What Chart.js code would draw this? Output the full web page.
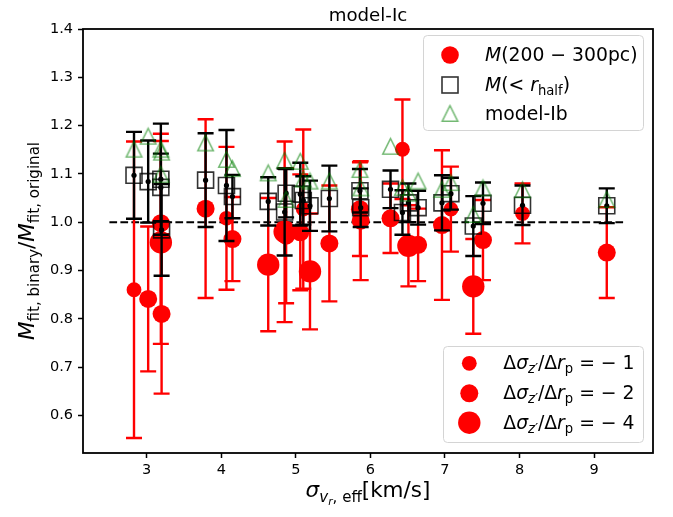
<!DOCTYPE html>
<html>
<head>
<meta charset="utf-8">
<script src="https://cdn.jsdelivr.net/npm/chart.js@4.4.0/dist/chart.umd.min.js"></script>
<style>
  html, body { margin: 0; padding: 0; background: #fff; }
  #wrap { width: 673px; height: 517px; }
</style>
</head>
<body>
<div id="wrap"><canvas id="chart" width="673" height="517"></canvas></div>
<script>
// effective l.o.s. velocity dispersion of each galaxy [km/s]
const sigmaEff = [2.83, 3.02, 3.19, 3.19, 3.20, 3.79, 4.07, 4.15, 4.63, 4.85, 4.87, 5.06, 5.10, 5.19,
                  5.45, 5.86, 5.87, 6.27, 6.43, 6.51, 6.64, 6.96, 7.08, 7.38, 7.51, 8.04, 9.17];
// M(200-300pc) ratio, binary / original
const massShell = [0.860, 0.841, 0.998, 0.958, 0.810, 1.028, 1.008, 0.965, 0.912, 0.980, 0.972, 0.979, 1.027, 0.898,
                   0.956, 1.027, 1.003, 1.008, 1.151, 0.951, 0.953, 0.994, 1.027, 0.867, 0.963, 1.018, 0.937];
const massShellErr = [0.307, 0.150, 0.185, 0.210, 0.165, 0.185, 0.148, 0.087, 0.138, 0.187, 0.140, 0.120, 0.165, 0.120,
                      0.120, 0.097, 0.123, 0.072, 0.103, 0.084, 0.075, 0.155, 0.088, 0.098, 0.083, 0.062, 0.094];
// dispersion gradient used for each galaxy (sets the dot size)
const gradient = [-1, -2, -2, -4, -2, -2, -1, -2, -4, -4, -2, -2, -1, -4,
                  -2, -2, -2, -2, -1, -4, -2, -2, -1, -4, -2, -1, -2];
// M(<r_half) ratio
const massHalf = [1.097, 1.084, 1.072, 1.089, 0.984, 1.087, 1.076, 1.053, 1.043, 1.021, 1.060, 1.058, 1.045, 1.034,
                  1.049, 1.065, 1.030, 1.068, 1.020, 1.040, 1.030, 1.040, 1.059, 0.992, 1.039, 1.035, 1.034];
const massHalfErr = [0.090, 0.085, 0.070, 0.115, 0.095, 0.097, 0.115, 0.045, 0.050, 0.090, 0.050, 0.065, 0.050, 0.052,
                     0.068, 0.045, 0.040, 0.039, 0.046, 0.040, 0.035, 0.057, 0.033, 0.062, 0.043, 0.041, 0.036];
// model-Ib M(<r_half) ratio
const modelIb = [1.151, 1.178, 1.151, 1.099, 1.145, 1.164, 1.130, 1.111, 1.102, 1.128, 1.047, 1.126, 1.089, 1.085,
                 1.085, 1.109, 1.071, 1.157, 1.072, 1.060, 1.085, 1.068, 1.082, 1.016, 1.071, 1.067, 1.047];

const refLineX = [2.5, 9.4];
const refLineY = [1.0, 1.0];
const legendGradients = [-1, -2, -4];

const xTicks = [3, 4, 5, 6, 7, 8, 9];
const yTicks = [0.6, 0.7, 0.8, 0.9, 1.0, 1.1, 1.2, 1.3, 1.4];
const xRange = [2.146, 9.79];
const yRange = [0.522, 1.4];

const FONT = '"DejaVu Sans", sans-serif';
const dotRadius = { '-1': 7.4, '-2': 9.0, '-4': 11.2 };
const GREEN = 'rgba(0,128,0,0.55)';

function triangleMarker(half, color, lw) {
  const c = document.createElement('canvas');
  c.width = c.height = Math.ceil(half * 2 + lw * 2 + 2);
  const g = c.getContext('2d');
  const m = c.width / 2;
  g.strokeStyle = color;
  g.lineWidth = lw;
  g.beginPath();
  g.moveTo(m, m - half);
  g.lineTo(m - half, m + half);
  g.lineTo(m + half, m + half);
  g.closePath();
  g.stroke();
  return c;
}
const triMark = triangleMarker(7.8, GREEN, 1.5);

// draws a list of [text, style, level] runs; level 1 = subscript, 2 = sub-subscript
function drawRich(ctx, runs, x, y, size, align) {
  const parts = runs.map(([t, st, lv]) => {
    const fs = size * [1, 0.7, 0.5][lv];
    const font = (st === 'i' ? 'italic ' : '') + fs.toFixed(2) + 'px ' + FONT;
    ctx.font = font;
    return { t, font, w: ctx.measureText(t).width, dy: [0, 0.22, 0.36][lv] * size };
  });
  const total = parts.reduce((s, p) => s + p.w, 0);
  let cx = align === 'center' ? x - total / 2 : align === 'right' ? x - total : x;
  ctx.textAlign = 'left';
  ctx.textBaseline = 'alphabetic';
  parts.forEach(p => {
    ctx.font = p.font;
    ctx.fillText(p.t, cx, y + p.dy);
    cx += p.w;
  });
}

function roundBox(ctx, x, y, w, h, r) {
  ctx.beginPath();
  ctx.moveTo(x + r, y);
  ctx.arcTo(x + w, y, x + w, y + h, r);
  ctx.arcTo(x + w, y + h, x, y + h, r);
  ctx.arcTo(x, y + h, x, y, r);
  ctx.arcTo(x, y, x + w, y, r);
  ctx.closePath();
  ctx.fillStyle = 'rgba(255,255,255,0.8)';
  ctx.fill();
  ctx.strokeStyle = '#d4d4d4';
  ctx.lineWidth = 1;
  ctx.stroke();
}

const errorBars = {
  id: 'errorBars',
  beforeDatasetDraw(chart, args) {
    const ds = chart.data.datasets[args.index];
    if (!ds.errors) return;
    const { ctx } = chart;
    const xs = chart.scales.x, ys = chart.scales.y;
    ctx.save();
    ctx.strokeStyle = ds.errColor;
    ctx.lineWidth = 2.4;
    ds.data.forEach((p, i) => {
      const px = xs.getPixelForValue(p.x);
      const lo = ys.getPixelForValue(p.y - ds.errors[i]);
      const hi = ys.getPixelForValue(p.y + ds.errors[i]);
      ctx.beginPath();
      ctx.moveTo(px, lo); ctx.lineTo(px, hi);
      ctx.moveTo(px - 8, lo); ctx.lineTo(px + 8, lo);
      ctx.moveTo(px - 8, hi); ctx.lineTo(px + 8, hi);
      ctx.stroke();
    });
    ctx.restore();
  }
};

const decorations = {
  id: 'decorations',
  afterDraw(chart) {
    const { ctx, chartArea: a } = chart;
    ctx.save();
    // frame
    ctx.strokeStyle = '#000';
    ctx.lineWidth = 1.8;
    ctx.strokeRect(a.left, a.top, a.right - a.left, a.bottom - a.top);

    ctx.fillStyle = '#000';
    // title
    ctx.font = '18.2px ' + FONT;
    ctx.textAlign = 'center';
    ctx.textBaseline = 'alphabetic';
    ctx.fillText('model-Ic', (a.left + a.right) / 2, 21);

    // x label
    drawRich(ctx, [['σ', 'i', 0], ['v', 'i', 1], ['r', 'i', 2], [', eff', 'n', 1], ['[km/s]', 'n', 0]],
      (a.left + a.right) / 2, 497, 21.5, 'center');

    // y label
    ctx.save();
    ctx.translate(34, (a.top + a.bottom) / 2);
    ctx.rotate(-Math.PI / 2);
    drawRich(ctx, [['M', 'i', 0], ['fit, binary', 'n', 1], ['/', 'n', 0], ['M', 'i', 0], ['fit, original', 'n', 1]],
      0, 0, 21.5, 'center');
    ctx.restore();

    // upper legend
    roundBox(ctx, 423.5, 35.5, 220, 95, 4);
    const lx = 450, tx = 485, fs = 18.8;
    ctx.fillStyle = '#ff0000';
    ctx.beginPath(); ctx.arc(lx, 55, 8.8, 0, Math.PI * 2); ctx.fill();
    ctx.strokeStyle = 'rgba(0,0,0,0.8)';
    ctx.lineWidth = 1.6;
    ctx.strokeRect(lx - 8, 85 - 8, 16, 16);
    ctx.drawImage(triMark, lx - triMark.width / 2, 113.5 - triMark.height / 2);
    ctx.fillStyle = '#000';
    drawRich(ctx, [['M', 'i', 0], ['(200 − 300pc)', 'n', 0]], tx, 61.3, fs, 'left');
    drawRich(ctx, [['M', 'i', 0], ['(< ', 'n', 0], ['r', 'i', 0], ['half', 'n', 1], [')', 'n', 0]], tx, 91.3, fs, 'left');
    drawRich(ctx, [['model-Ib', 'n', 0]], tx, 120, fs, 'left');

    // lower legend
    roundBox(ctx, 443.5, 346.5, 200, 96, 4);
    const rows = [363.3, 393.3, 422.7];
    legendGradients.forEach((gv, i) => {
      ctx.fillStyle = '#ff0000';
      ctx.beginPath(); ctx.arc(469.3, rows[i], dotRadius[gv], 0, Math.PI * 2); ctx.fill();
      ctx.fillStyle = '#000';
      drawRich(ctx, [['Δ', 'n', 0], ['σ', 'i', 0], ['z′', 'i', 1], ['/Δ', 'n', 0], ['r', 'i', 0], ['p', 'n', 1],
        [' = − ' + Math.abs(gv), 'n', 0]], 503.3, rows[i] + 6, fs, 'left');
    });
    ctx.restore();
  }
};

const pts = ys => sigmaEff.map((x, i) => ({ x, y: ys[i] }));
const tickFont = { family: FONT, size: 14.5 };

new Chart(document.getElementById('chart'), {
  type: 'scatter',
  data: {
    datasets: [
      {
        data: refLineX.map((x, i) => ({ x, y: refLineY[i] })),
        showLine: true, borderColor: '#000', borderWidth: 2, borderDash: [7.7, 3.3],
        pointRadius: 0, order: 5
      },
      {
        data: pts(massShell), errors: massShellErr, errColor: '#ff0000',
        pointRadius: gradient.map(g => dotRadius[g]), backgroundColor: '#ff0000', borderWidth: 0, order: 4
      },
      {
        data: pts(massHalf), errors: massHalfErr, errColor: '#000',
        pointStyle: 'rect', pointRadius: 11.3, backgroundColor: 'rgba(0,0,0,0)',
        borderColor: 'rgba(0,0,0,0.8)', borderWidth: 1.6, order: 3
      },
      {
        data: pts(massHalf), pointRadius: 2.6, backgroundColor: '#000', borderWidth: 0, order: 2
      },
      {
        data: pts(modelIb), pointStyle: triMark, order: 1
      }
    ]
  },
  options: {
    responsive: false,
    animation: false,
    events: [],
    devicePixelRatio: 1,
    layout: { padding: { top: 29, right: 20, left: 0, bottom: 0 } },
    plugins: { legend: { display: false }, tooltip: { enabled: false }, title: { display: false } },
    scales: {
      x: {
        type: 'linear', min: xRange[0], max: xRange[1],
        afterFit: s => { s.height = 64; },
        afterBuildTicks: s => { s.ticks = xTicks.map(v => ({ value: v })); },
        ticks: { font: tickFont, color: '#000', padding: 4, maxRotation: 0, autoSkip: false, callback: v => String(v) },
        grid: { drawOnChartArea: false, drawTicks: true, tickLength: 5, tickWidth: 1.5, tickColor: '#000' },
        border: { display: false }
      },
      y: {
        type: 'linear', min: yRange[0], max: yRange[1],
        afterFit: s => { s.width = 83; },
        afterBuildTicks: s => { s.ticks = yTicks.map(v => ({ value: v })); },
        ticks: { font: tickFont, color: '#000', padding: 5, autoSkip: false, callback: v => v.toFixed(1) },
        grid: { drawOnChartArea: false, drawTicks: true, tickLength: 5, tickWidth: 1.5, tickColor: '#000' },
        border: { display: false }
      }
    }
  },
  plugins: [errorBars, decorations]
});
</script>
</body>
</html>
